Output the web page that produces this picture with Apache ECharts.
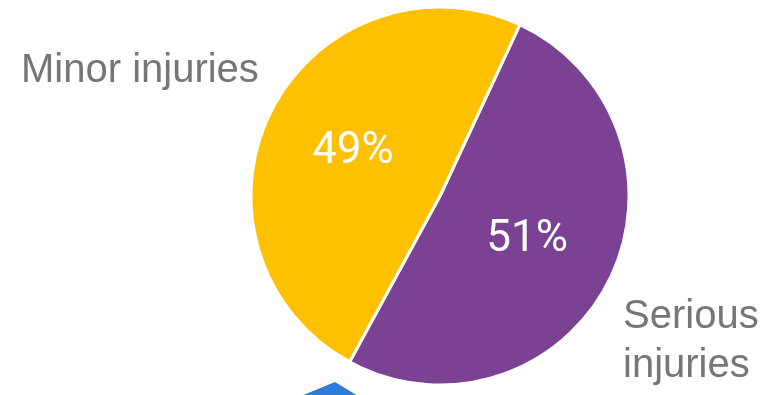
<!DOCTYPE html>
<html>
<head>
<meta charset="utf-8">
<style>
  html, body { margin: 0; padding: 0; background: #ffffff; }
  #chart { width: 769px; height: 395px; }
</style>
<script src="https://cdn.jsdelivr.net/npm/echarts@6/dist/echarts.min.js"></script>
</head>
<body>
<div id="chart"></div>
<script>
// Share of injuries by severity (percent)
const categories = ['Serious injuries', 'Minor injuries'];
const values = [51, 49];
const colors = ['#7B4294', '#FFC000'];

const chart = echarts.init(document.getElementById('chart'), null, { renderer: 'canvas' });

const sliceData = categories.map((name, i) => ({
  name: name,
  value: values[i],
  itemStyle: { color: colors[i] }
}));

// Outer category labels placed beside the pie
const outerPlacement = {
  'Minor injuries': { x: 21, y: 71, align: 'left' },
  'Serious injuries': { x: 623, y: 341, align: 'left' }
};

const labelFont = "'Liberation Sans', Arial, sans-serif";
const pctFont = "Roboto, 'Liberation Sans', sans-serif";

const pieCommon = {
  type: 'pie',
  center: [440, 196],
  radius: [0, 189],
  startAngle: 65,
  clockwise: true,
  silent: true,
  animation: false
};

chart.setOption({
  backgroundColor: '#ffffff',
  series: [
    Object.assign({}, pieCommon, {
      name: 'share',
      itemStyle: { borderColor: '#ffffff', borderWidth: 3 },
      label: {
        show: true,
        position: 'inner',
        formatter: '{c}%',
        color: '#ffffff',
        fontFamily: pctFont,
        fontSize: 44
      },
      labelLine: { show: false },
      data: sliceData
    }),
    Object.assign({}, pieCommon, {
      name: 'names',
      itemStyle: { color: 'rgba(0,0,0,0)', borderWidth: 0 },
      label: {
        show: true,
        position: 'outside',
        formatter: p => p.name === 'Serious injuries' ? p.name.replace(' ', '\n') : p.name,
        color: '#767676',
        fontFamily: labelFont,
        fontSize: 40,
        lineHeight: 49,
        overflow: 'none',
        edgeDistance: 0
      },
      labelLine: { show: false },
      labelLayout: function (params) {
        const name = categories[params.dataIndex];
        const p = outerPlacement[name];
        return { x: p.x, y: p.y, align: p.align, verticalAlign: 'middle', hideOverlap: false };
      },
      data: categories.map((name, i) => ({ name: name, value: values[i] }))
    })
  ],
  graphic: [
    {
      type: 'polygon',
      shape: { points: [[301, 396], [335, 382], [358, 396]] },
      style: { fill: '#2E7BD8' },
      silent: true
    }
  ]
});
</script>
</body>
</html>
